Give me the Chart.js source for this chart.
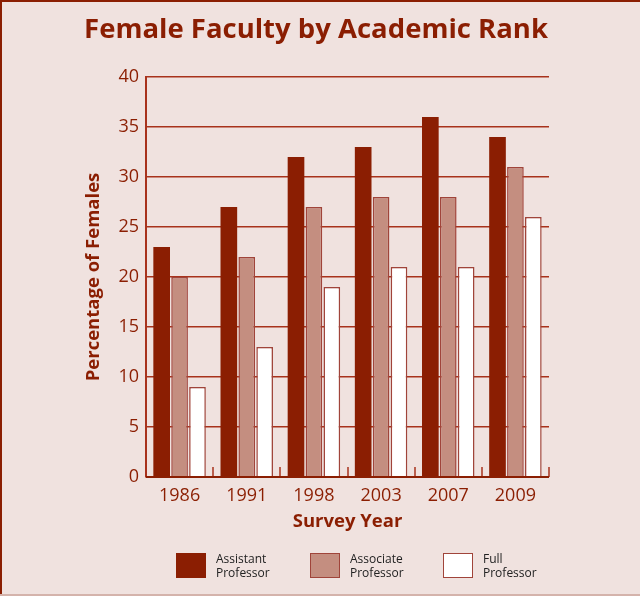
<!DOCTYPE html>
<html>
<head>
<meta charset="utf-8">
<script src="https://cdn.jsdelivr.net/npm/chart.js@4.4.1/dist/chart.umd.min.js"></script>
<style>
  html, body { margin: 0; padding: 0; background: #f0e2df; }
  #wrap { position: relative; width: 640px; height: 596px; }
  #legend { position: absolute; top: 553px; left: 0; width: 640px; height: 30px; font-family: "Open Sans", sans-serif; }
  .item { position: absolute; top: 0; }
  .box { position: absolute; left: 0; top: 0; width: 28px; height: 23px; border: 1px solid #a0443a; }
  .txt { position: absolute; left: 40px; top: -1px; font-size: 12px; line-height: 14px; color: #222; white-space: nowrap; }
</style>
</head>
<body>
<div id="wrap">
  <canvas id="chart" width="640" height="596"></canvas>
  <div id="legend"></div>
</div>
<script>
const years = ['1986', '1991', '1998', '2003', '2007', '2009'];
const assistant = [23, 27, 32, 33, 36, 34];
const associate = [20, 22, 27, 28, 28, 31];
const full = [9, 13, 19, 21, 21, 26];
const seriesNames = [['Assistant', 'Professor'], ['Associate', 'Professor'], ['Full', 'Professor']];
const yTicks = [0, 5, 10, 15, 20, 25, 30, 35, 40];

const red = '#8b1e02';
const lineRed = '#a8321c';
const fills = [red, '#c48e80', '#ffffff'];
const borders = [red, '#a0443a', '#a0443a'];

// background, frame and the little category ticks on the x axis
const frame = {
    id: 'frame',
    beforeDraw(chart) {
        const c = chart.ctx;
        c.save();
        c.fillStyle = '#f0e2df';
        c.fillRect(0, 0, chart.width, chart.height);
        c.fillStyle = red;
        c.fillRect(0, 0, chart.width, 2);
        c.fillRect(0, 0, 2, chart.height);
        c.fillStyle = '#d4b3ab';
        c.fillRect(0, chart.height - 2, chart.width, 2);
        c.restore();
    },
    afterDatasetsDraw(chart) {
        const c = chart.ctx, x = chart.scales.x, a = chart.chartArea;
        c.save();
        c.strokeStyle = lineRed;
        c.lineWidth = 1.5;
        for (let i = 0; i <= years.length; i++) {
            const px = Math.round(x.getPixelForValue(i - 0.5));
            c.beginPath();
            c.moveTo(px, a.bottom);
            c.lineTo(px, a.bottom - 10);
            c.stroke();
        }
        c.strokeStyle = red;
        c.lineWidth = 2;
        c.beginPath();
        c.moveTo(a.left, a.bottom);
        c.lineTo(a.right, a.bottom);
        c.stroke();
        c.restore();
    }
};

const datasets = [assistant, associate, full].map((d, i) => ({
    label: seriesNames[i].join(' '),
    data: d,
    backgroundColor: fills[i],
    borderColor: borders[i],
    borderWidth: i === 0 ? 0 : 1.5,
    categoryPercentage: 0.8,
    barPercentage: 0.93
}));

new Chart(document.getElementById('chart'), {
    type: 'bar',
    data: { labels: years, datasets },
    options: {
        responsive: false,
        animation: false,
        layout: { padding: { top: 0, left: 83, right: 91, bottom: 59 } },
        plugins: {
            legend: { display: false },
            tooltip: { enabled: false },
            title: {
                display: true,
                text: 'Female Faculty by Academic Rank',
                color: red,
                font: { family: 'Open Sans', size: 27.5, weight: 'bold' },
                padding: { top: 14, bottom: 30 }
            }
        },
        scales: {
            x: {
                grid: { display: false },
                border: { display: false },
                ticks: { color: red, font: { family: 'Open Sans', size: 18 }, padding: 0 },
                title: {
                    display: true, text: 'Survey Year', color: red,
                    font: { family: 'Open Sans', size: 18.5, weight: 'bold' }, padding: { top: 4 }
                },
                afterFit: s => { s.height = 60; }
            },
            y: {
                min: 0, max: 40,
                afterBuildTicks: s => { s.ticks = yTicks.map(v => ({ value: v })); },
                grid: { color: lineRed, lineWidth: 1.5, drawTicks: false },
                border: { display: true, color: lineRed, width: 2 },
                ticks: { color: red, font: { family: 'Open Sans', size: 18 }, padding: 7 },
                title: {
                    display: true, text: 'Percentage of Females', color: red,
                    font: { family: 'Open Sans', size: 18.5, weight: 'bold' }, padding: { top: 0, bottom: 0 }
                },
                afterFit: s => { s.width = 63; }
            }
        }
    },
    plugins: [frame]
});

// two-line legend under the chart
const legendX = [176, 310, 443];
const legend = document.getElementById('legend');
seriesNames.forEach((name, i) => {
    const item = document.createElement('div');
    item.className = 'item';
    item.style.left = legendX[i] + 'px';
    item.innerHTML = '<div class="box" style="background:' + fills[i] + ';border-color:' + borders[i] + '"></div>' +
        '<div class="txt">' + name.join('<br>') + '</div>';
    legend.appendChild(item);
});
</script>
</body>
</html>
